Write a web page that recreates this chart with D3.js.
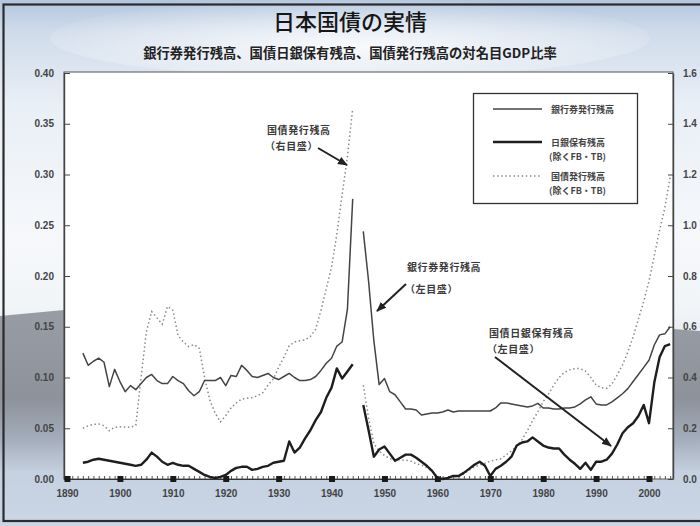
<!DOCTYPE html>
<html><head><meta charset="utf-8">
<script src="https://cdn.jsdelivr.net/npm/d3@7"></script>
<style>html,body{margin:0;padding:0;background:#fff;} svg{display:block;}</style>
</head><body><svg id="c" width="700" height="526"></svg>
<script>
// ---------- data ----------
const years = [1893,1894,1895,1896,1897,1898,1899,1900,1901,1902,1903,1904,1905,1906,1907,1908,1909,1910,
1911,1912,1913,1914,1915,1916,1917,1918,1919,1920,1921,1922,1923,1924,1925,1926,1927,1928,1929,1930,
1931,1932,1933,1934,1935,1936,1937,1938,1939,1940,1941,1942,1943,1944,1945,1946,1947,1948,1949,1950,
1951,1952,1953,1954,1955,1956,1957,1958,1959,1960,1961,1962,1963,1964,1965,1966,1967,1968,1969,1970,
1971,1972,1973,1974,1975,1976,1977,1978,1979,1980,1981,1982,1983,1984,1985,1986,1987,1988,1989,1990,
1991,1992,1993,1994,1995,1996,1997,1998,1999,2000,2001,2002,2003,2004];

// 銀行券発行残高 / 名目GDP (left axis)
const banknotes = [0.124,0.112,0.116,0.119,0.115,0.091,0.108,0.096,0.086,0.092,0.088,0.094,0.100,0.103,0.097,0.094,0.094,0.101,
0.097,0.094,0.087,0.082,0.086,0.097,0.097,0.097,0.100,0.092,0.102,0.101,0.112,0.107,0.101,0.100,0.102,0.104,0.100,0.098,
0.101,0.104,0.100,0.097,0.097,0.098,0.101,0.107,0.114,0.119,0.131,0.135,0.167,0.276,null,0.244,0.195,0.136,0.093,0.099,
0.086,0.083,0.076,0.069,0.069,0.068,0.063,0.064,0.065,0.065,0.066,0.068,0.066,0.067,0.067,0.067,0.067,0.067,0.067,0.067,
0.070,0.075,0.075,0.074,0.073,0.072,0.071,0.072,0.0745,0.070,0.070,0.069,0.069,0.070,0.070,0.071,0.074,0.078,0.081,0.074,
0.073,0.073,0.076,0.080,0.084,0.089,0.096,0.103,0.110,0.117,0.132,0.142,0.143,0.150];

// 日銀保有残高（除くFB・TB）/ 名目GDP (left axis)
const bojHoldings = [0.016,0.017,0.019,0.020,0.019,0.018,0.017,0.016,0.015,0.014,0.013,0.014,0.019,0.026,0.022,0.017,0.014,0.016,
0.014,0.013,0.013,0.010,0.007,0.004,0.002,0.001,0.002,0.004,0.008,0.011,0.012,0.012,0.009,0.010,0.012,0.013,0.016,0.017,
0.018,0.037,0.026,0.031,0.040,0.048,0.058,0.066,0.080,0.090,0.109,0.099,0.106,0.113,null,0.073,0.048,0.022,0.029,0.032,
0.025,0.018,0.021,0.024,0.024,0.021,0.017,0.013,0.008,0.001,0.000,0.001,0.003,0.003,0.006,0.010,0.014,0.017,0.013,0.003,
0.010,0.013,0.017,0.022,0.033,0.036,0.037,0.041,0.037,0.033,0.031,0.030,0.030,0.024,0.019,0.015,0.010,0.016,0.009,0.017,
0.017,0.019,0.025,0.034,0.045,0.051,0.055,0.062,0.073,0.055,0.095,0.120,0.131,0.133];

// 国債発行残高（除くFB・TB）/ 名目GDP (right axis)
const jgbOutstanding = [0.200,0.210,0.215,0.217,0.210,0.190,0.204,0.206,0.205,0.204,0.212,0.400,0.580,0.660,0.635,0.610,0.680,0.665,
0.565,0.540,0.522,0.530,0.515,0.400,0.310,0.260,0.225,0.250,0.280,0.300,0.315,0.318,0.321,0.328,0.340,0.370,0.395,0.440,
0.480,0.525,0.540,0.545,0.548,0.562,0.590,0.665,0.750,0.835,0.965,1.120,1.270,1.460,null,0.370,0.240,0.140,0.110,0.093,
0.080,0.076,0.075,0.075,0.070,0.060,0.055,0.045,0.030,0.010,0.005,0.005,0.010,0.010,0.020,0.035,0.048,0.055,0.062,0.070,
0.075,0.080,0.095,0.110,0.130,0.155,0.190,0.230,0.265,0.305,0.335,0.370,0.400,0.420,0.430,0.435,0.435,0.425,0.400,0.370,
0.360,0.357,0.375,0.410,0.450,0.500,0.560,0.630,0.700,0.780,0.880,0.980,1.070,1.190];

const xTickYears = [1890,1900,1910,1920,1930,1940,1950,1960,1970,1980,1990,2000];
const leftTicks = [0,0.05,0.10,0.15,0.20,0.25,0.30,0.35,0.40];
const rightTicks = [0,0.2,0.4,0.6,0.8,1.0,1.2,1.4,1.6];

const titleText = "日本国債の実情";
const subtitleText = "銀行券発行残高、国債日銀保有残高、国債発行残高の対名目GDP比率";
const legendItems = [
  {name:"銀行券発行残高", sub:null, key:"bn"},
  {name:"日銀保有残高", sub:"(除くFB・TB)", key:"boj"},
  {name:"国債発行残高", sub:"(除くFB・TB)", key:"jgb"}
];
const annotations = [
  {lines:["国債発行残高","（右目盛）"], key:"jgbNote"},
  {lines:["銀行券発行残高","（左目盛）"], key:"bnNote"},
  {lines:["国債日銀保有残高","（左目盛）"], key:"bojNote"}
];

// ---------- layout ----------
const W = 700, H = 526;
const plot = {l:64, r:673, t:72, b:479};
const JP = "'Noto Sans CJK JP','Noto Sans',sans-serif";
const NUM = "'Liberation Sans',Arial,sans-serif";

const svg = d3.select("#c");
const defs = svg.append("defs");

const bg = defs.append("linearGradient").attr("id","bg").attr("x1",0).attr("y1",0).attr("x2",0).attr("y2",1);
[[0,"#b3c6df"],[0.06,"#cfdbea"],[0.2,"#e9eff6"],[0.45,"#f6f8fb"],[0.58,"#f2f5f8"],[0.85,"#c3cedd"],[1,"#cad6e6"]]
  .forEach(([o,c])=>bg.append("stop").attr("offset",o).attr("stop-color",c));
const hill = defs.append("linearGradient").attr("id","hill").attr("x1",0).attr("y1",0).attr("x2",0).attr("y2",1);
[[0,"#979ca5"],[0.55,"#8d929b"],[0.8,"#a3acba"],[1,"#c3cedd"]]
  .forEach(([o,c])=>hill.append("stop").attr("offset",o).attr("stop-color",c));
const tg = defs.append("radialGradient").attr("id","tglow").attr("cx",0.5).attr("cy",0.6).attr("r",0.6);
[[0,"rgba(255,255,255,0.85)"],[1,"rgba(255,255,255,0)"]]
  .forEach(([o,c])=>tg.append("stop").attr("offset",o).attr("stop-color",c));

svg.append("rect").attr("width",W).attr("height",H).attr("fill","url(#bg)");
svg.append("path").attr("d","M0,316 L64,310 L673,329 L700,331 L700,470 L0,470 Z").attr("fill","url(#hill)");
svg.append("ellipse").attr("cx",350).attr("cy",38).attr("rx",300).attr("ry",40).attr("fill","url(#tglow)");

// outer frame
svg.append("rect").attr("x",3.5).attr("y",4.5).attr("width",720).attr("height",516.5)
  .attr("fill","none").attr("stroke","#2b2b2b").attr("stroke-width",2.2);

// titles
svg.append("text").attr("x",350).attr("y",30).attr("text-anchor","middle")
  .attr("font-family",JP).attr("font-size",22).attr("font-weight",500).attr("fill","#161616").text(titleText);
svg.append("text").attr("x",350).attr("y",58).attr("text-anchor","middle")
  .attr("font-family",JP).attr("font-size",13.3).attr("font-weight",700).attr("fill","#222").text(subtitleText);

// plot area
svg.append("rect").attr("x",plot.l).attr("y",plot.t).attr("width",plot.r-plot.l).attr("height",plot.b-plot.t)
  .attr("fill","#fff").attr("stroke","#555").attr("stroke-width",1);

// scales
const x = d3.scaleLinear().domain([1890,2000]).range([67,649]);
const yL = d3.scaleLinear().domain([0,0.4]).range([plot.b,73]);
const yR = d3.scaleLinear().domain([0,1.6]).range([plot.b,73]);

// axes
const axL = svg.append("g").attr("transform",`translate(${plot.l},0)`)
  .call(d3.axisLeft(yL).tickValues(leftTicks).tickFormat(d3.format(".2f")).tickSizeInner(-6).tickSizeOuter(0).tickPadding(10));
const axR = svg.append("g").attr("transform",`translate(${plot.r},0)`)
  .call(d3.axisRight(yR).tickValues(rightTicks).tickFormat(d3.format(".1f")).tickSizeInner(-5).tickSizeOuter(0).tickPadding(10));
[axL,axR].forEach(a=>{
  a.select(".domain").attr("stroke","#444").attr("stroke-width",1.4);
  a.selectAll(".tick line").attr("stroke","#444");
  a.selectAll(".tick text").attr("font-family",NUM).attr("font-size",10).attr("font-weight",700).attr("fill","#444");
});

// x axis: minor yearly ticks + decade squares + labels
const minorYears = d3.range(1890,2005);
const axMinor = svg.append("g").attr("transform",`translate(0,${plot.b})`)
  .call(d3.axisBottom(x).tickValues(minorYears).tickFormat("").tickSizeInner(-3).tickSizeOuter(0));
axMinor.select(".domain").attr("stroke","#333").attr("stroke-width",1.2);
axMinor.selectAll(".tick line").attr("stroke","#555");
const axB = svg.append("g").attr("transform",`translate(0,${plot.b})`)
  .call(d3.axisBottom(x).tickValues(xTickYears).tickFormat(d3.format("d")).tickSize(0).tickPadding(11));
axB.select(".domain").remove();
axB.selectAll(".tick text").attr("font-family",NUM).attr("font-size",10).attr("font-weight",700).attr("fill","#444");
axB.selectAll(".tick").append("rect").attr("x",-3).attr("y",-3).attr("width",6).attr("height",6).attr("fill","#1a1a1a");

// lines
const data = years.map((yr,i)=>({yr, bn:banknotes[i], boj:bojHoldings[i], jgb:jgbOutstanding[i]}));
const lineBn = d3.line().defined(d=>d.bn!=null).x(d=>x(d.yr)).y(d=>yL(d.bn));
const lineBoj = d3.line().defined(d=>d.boj!=null).x(d=>x(d.yr)).y(d=>yL(d.boj));
const lineJgb = d3.line().defined(d=>d.jgb!=null).x(d=>x(d.yr)).y(d=>yR(d.jgb));

const styles = {
  bn:{stroke:"#444", width:1.5, dash:null},
  boj:{stroke:"#1e1e1e", width:2.4, dash:null},
  jgb:{stroke:"#8a8a8a", width:1.5, dash:"1.5,2.6"}
};
const g = svg.append("g");
g.append("path").datum(data).attr("d",lineJgb).attr("fill","none")
  .attr("stroke",styles.jgb.stroke).attr("stroke-width",styles.jgb.width).attr("stroke-dasharray",styles.jgb.dash);
g.append("path").datum(data).attr("d",lineBn).attr("fill","none")
  .attr("stroke",styles.bn.stroke).attr("stroke-width",styles.bn.width).attr("stroke-linejoin","round");
g.append("path").datum(data).attr("d",lineBoj).attr("fill","none")
  .attr("stroke",styles.boj.stroke).attr("stroke-width",styles.boj.width).attr("stroke-linejoin","round");

// legend
const lg = svg.append("g");
lg.append("rect").attr("x",473.5).attr("y",93.5).attr("width",164).attr("height",110)
  .attr("fill","#fff").attr("stroke","#333").attr("stroke-width",1.3);
const legY = {bn:109, boj:142, jgb:176};
legendItems.forEach(it=>{
  const st = styles[it.key], yy = legY[it.key];
  lg.append("line").attr("x1",493).attr("x2",542).attr("y1",yy).attr("y2",yy)
    .attr("stroke",st.stroke).attr("stroke-width",st.width).attr("stroke-dasharray",st.dash);
  lg.append("text").attr("x",551).attr("y",yy+3.5).attr("font-family",JP).attr("font-size",9)
    .attr("font-weight",700).attr("fill","#444").text(it.name);
  if(it.sub) lg.append("text").attr("x",549).attr("y",yy+17.5).attr("font-family",JP).attr("font-size",9)
    .attr("font-weight",700).attr("fill","#444").text(it.sub);
});

// annotations
defs.append("marker").attr("id","ah").attr("viewBox","0 0 10 10").attr("refX",9).attr("refY",5)
  .attr("markerWidth",5).attr("markerHeight",5).attr("orient","auto-start-reverse").attr("markerUnits","strokeWidth")
  .append("path").attr("d","M0,1 L10,5 L0,9 Z").attr("fill","#222");
const notePos = {
  jgbNote:{x:267, y:134, arrow:[[318,148],[347,165]]},
  bnNote:{x:407, y:271, arrow:[[406,284],[377,311]]},
  bojNote:{x:489, y:337, arrow:[[495,357],[611,446]]}
};
annotations.forEach(a=>{
  const p = notePos[a.key];
  a.lines.forEach((t,i)=>{
    svg.append("text").attr("x",p.x + (i?-2:0)).attr("y",p.y + i*(a.key==="bnNote"?22:16))
      .attr("font-family",JP).attr("font-size",10).attr("font-weight",700).attr("fill","#3a3a3a")
      .attr("letter-spacing",0.6).text(t);
  });
  svg.append("line").attr("x1",p.arrow[0][0]).attr("y1",p.arrow[0][1]).attr("x2",p.arrow[1][0]).attr("y2",p.arrow[1][1])
    .attr("stroke","#222").attr("stroke-width",2).attr("marker-end","url(#ah)");
});
</script>
</body></html>
